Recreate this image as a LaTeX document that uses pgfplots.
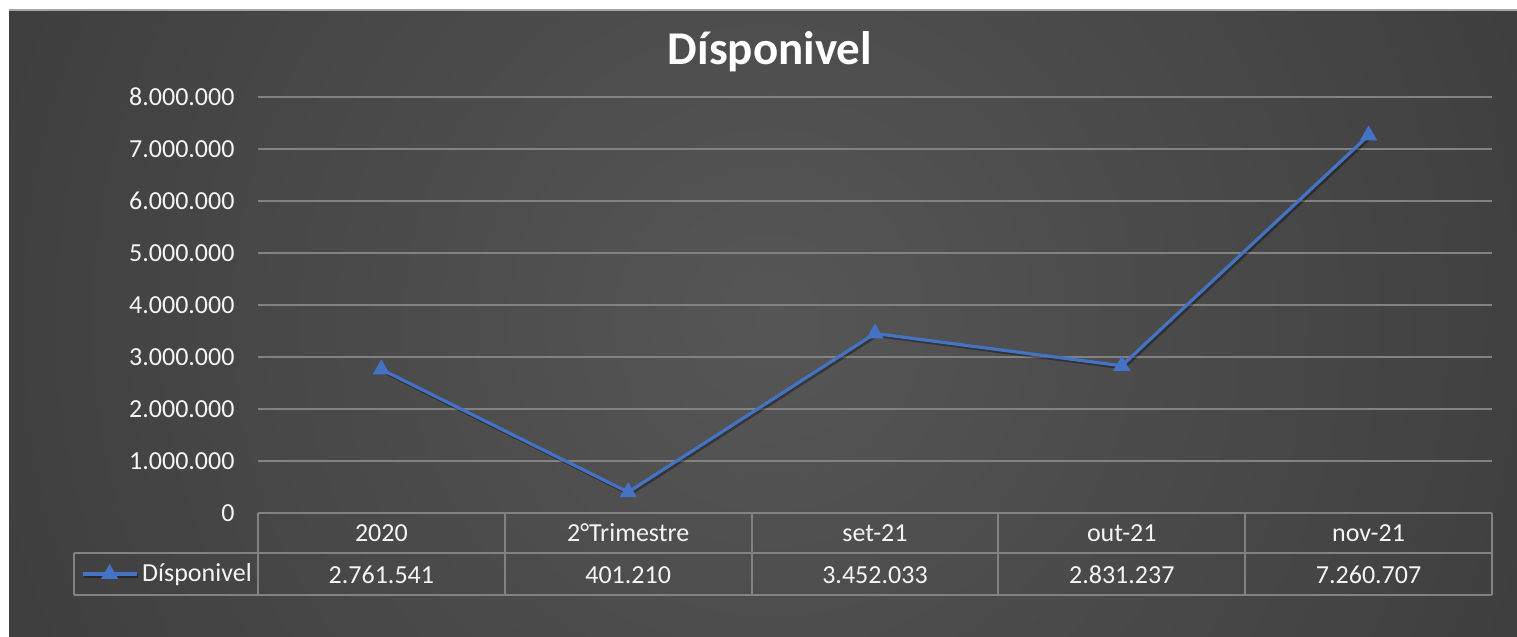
\documentclass[border=0pt]{standalone}
\usepackage{pgfplots}
\pgfplotsset{compat=1.18}
\usepackage{fontspec}
\setmainfont{Carlito}
\definecolor{bgin}{RGB}{86,86,86}
\definecolor{bgout}{RGB}{40,40,40}
\definecolor{bgfar}{RGB}{35,35,35}
\definecolor{gridc}{RGB}{130,130,130}
\definecolor{linec}{RGB}{68,114,196}
\definecolor{txt}{RGB}{245,245,245}
\pgfdeclareradialshading{bgshade}{\pgfpoint{0bp}{0bp}}{color(0bp)=(bgin); color(50bp)=(bgout); color(60bp)=(bgfar)}
\newcommand{\tfont}{\fontsize{13}{15.6}\selectfont}
\begin{document}
\begin{tikzpicture}
\begin{scope}[x=0.5pt,y=0.5pt]
\path[use as bounding box, fill=white] (0,0) rectangle (1517,637);
\begin{scope}
\clip (9,0) rectangle (1517,627);
\shade[shading=bgshade] (-30,-483) rectangle (1570,1117);
\end{scope}
\draw[gray!70, line width=0.6pt] (9,627) -- (1517,627);
\node[font=\fontsize{23.5}{28}\selectfont\bfseries, text=white] at (770,585) {Dísponivel};
\end{scope}
\begin{axis}[
  at={(129pt,62pt)}, anchor=south west,
  scale only axis, width=617pt, height=208pt,
  xmin=-0.5, xmax=4.5, ymin=0, ymax=8000000,
  axis line style={draw=none},
  major tick length=0pt,
  ytick={0,1000000,2000000,3000000,4000000,5000000,6000000,7000000,8000000},
  yticklabels={0,1.000.000,2.000.000,3.000.000,4.000.000,5.000.000,6.000.000,7.000.000,8.000.000},
  scaled y ticks=false,
  ymajorgrids,
  grid style={gridc, line width=1pt},
  xtick={0,1,2,3,4},
  xticklabels={2020,2°Trimestre,set-21,out-21,nov-21},
  xticklabel style={anchor=center, yshift=-10pt, font=\tfont, text=txt},
  yticklabel style={anchor=east, xshift=-8.2pt, font=\tfont, text=txt},
  clip=false,
  legend style={at={(-0.1434,-0.1466)}, anchor=west, draw=none, fill=none,
    text=txt, font=\tfont, inner sep=0pt, outer sep=0pt},
  legend image code/.code={\draw[mark repeat=2,mark phase=2,#1] plot coordinates {(0pt,0pt) (13.5pt,0pt) (27pt,0pt)};},
]
\addplot[linec, line width=1.6pt, mark=triangle*, mark size=4.5pt,
  mark options={fill=linec, draw=linec, line width=0.5pt},
  preaction={draw, black, opacity=0.35, line width=2pt, transform canvas={xshift=0.8pt,yshift=-0.8pt}}]
  coordinates {(0,2761541) (1,401210) (2,3452033) (3,2831237) (4,7260707)};
\addlegendentry{Dísponivel}
\node[font=\tfont, text=txt, yshift=-31pt] at (axis cs:0,0) {2.761.541};
\node[font=\tfont, text=txt, yshift=-31pt] at (axis cs:1,0) {401.210};
\node[font=\tfont, text=txt, yshift=-31pt] at (axis cs:2,0) {3.452.033};
\node[font=\tfont, text=txt, yshift=-31pt] at (axis cs:3,0) {2.831.237};
\node[font=\tfont, text=txt, yshift=-31pt] at (axis cs:4,0) {7.260.707};
\end{axis}
\begin{scope}[x=0.5pt,y=0.5pt]
\draw[gridc, line width=1pt] (258,124) -- (1492,124);
\draw[gridc, line width=1pt] (74,84) -- (1492,84);
\draw[gridc, line width=1pt] (74,42) -- (1492,42);
\draw[gridc, line width=1pt] (74,84) -- (74,42);
\foreach \x in {258,505,752,998,1245,1492} {\draw[gridc, line width=1pt] (\x,124) -- (\x,42);}
\end{scope}
\end{tikzpicture}
\end{document}
